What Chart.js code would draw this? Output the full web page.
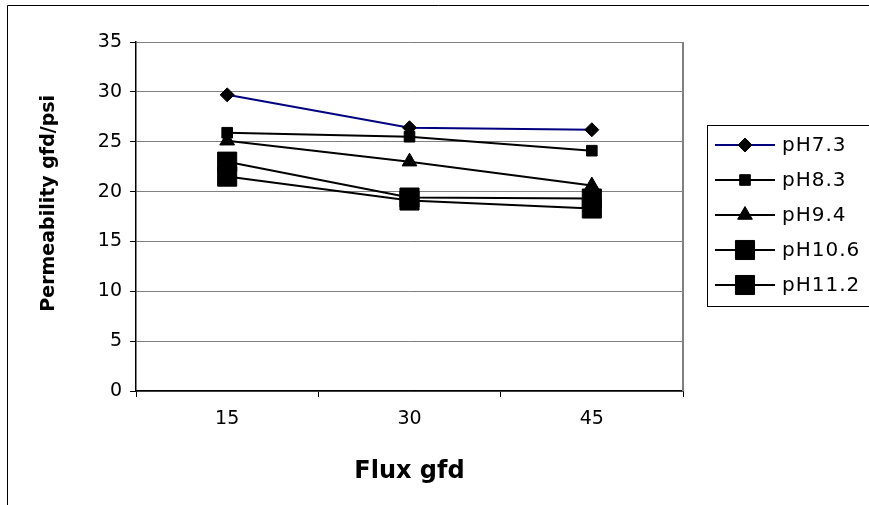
<!DOCTYPE html>
<html>
<head>
<meta charset="utf-8">
<script src="https://cdn.jsdelivr.net/npm/chart.js@4.4.1/dist/chart.umd.min.js"></script>
<style>
  html, body { margin: 0; padding: 0; background: #fff; overflow: hidden; }
  #wrap { width: 869px; height: 505px; }
</style>
</head>
<body>
<div id="wrap"><canvas id="chart" width="869" height="505"></canvas></div>
<script>
// values
const fluxLabels = ['15', '30', '45'];
const seriesNames = ['pH7.3', 'pH8.3', 'pH9.4', 'pH10.6', 'pH11.2'];
const ph73 = [29.7, 26.4, 26.2];
const ph83 = [25.9, 25.5, 24.1];
const ph94 = [25.1, 23.0, 20.6];
const ph106 = [23.0, 19.4, 19.3];
const ph112 = [21.5, 19.1, 18.3];
const yMin = 0, yMax = 35, yStep = 5;

const seriesValues = [ph73, ph83, ph94, ph106, ph112];
const lineColors = ['#000080', '#000', '#000', '#000', '#000'];
const markers = ['rectRot', 'rect', 'triangle', 'rect', 'rect'];
const markerSizes = [7, 7.5, 8.5, 13.5, 13.5];

const tickFont = { family: 'DejaVu Sans', size: 19 };

// legend box on the right, with line + marker samples
const sideLegend = {
  id: 'sideLegend',
  afterDraw(chart) {
    const ctx = chart.ctx;
    const h = Chart.helpers;
    ctx.save();
    // outer chart frame
    ctx.strokeStyle = '#000';
    ctx.lineWidth = 1;
    ctx.beginPath();
    ctx.moveTo(7.5, 510); ctx.lineTo(7.5, 5.5); ctx.lineTo(880, 5.5);
    ctx.stroke();
    // right edge of the plot
    const a = chart.chartArea;
    ctx.strokeStyle = '#808080';
    ctx.lineWidth = 2;
    ctx.beginPath();
    ctx.moveTo(a.right, a.top); ctx.lineTo(a.right, a.bottom);
    ctx.stroke();

    ctx.strokeStyle = '#000';
    ctx.lineWidth = 1;
    ctx.strokeRect(707.5, 125.5, 220, 181);
    chart.data.datasets.forEach((ds, i) => {
      const y = 145 + i * 35;
      ctx.strokeStyle = ds.borderColor;
      ctx.lineWidth = 2;
      ctx.beginPath();
      ctx.moveTo(715, y); ctx.lineTo(775, y);
      ctx.stroke();
      ctx.fillStyle = '#000';
      ctx.strokeStyle = '#000';
      ctx.lineWidth = 1;
      h.drawPoint(ctx, { pointStyle: ds.pointStyle, radius: ds.pointRadius, rotation: 0, borderWidth: 1 }, 745, y);
      ctx.fillStyle = '#000';
      ctx.font = '20px "DejaVu Sans"';
      ctx.letterSpacing = '1px';
      ctx.textBaseline = 'middle';
      ctx.textAlign = 'left';
      ctx.fillText(ds.label, 782, y + 1);
    });
    ctx.restore();
  }
};

new Chart(document.getElementById('chart'), {
  type: 'line',
  data: {
    labels: fluxLabels,
    datasets: seriesNames.map((name, i) => ({
      label: name,
      data: seriesValues[i],
      borderColor: lineColors[i],
      borderWidth: 2,
      backgroundColor: '#000',
      pointBackgroundColor: '#000',
      pointBorderColor: '#000',
      pointBorderWidth: 1,
      pointStyle: markers[i],
      pointRadius: markerSizes[i],
      pointHoverRadius: markerSizes[i],
      tension: 0,
      fill: false
    }))
  },
  options: {
    responsive: false,
    animation: false,
    layout: { padding: { left: 0, right: 186, top: 42, bottom: 0 } },
    plugins: { legend: { display: false }, tooltip: { enabled: false } },
    scales: {
      x: {
        offset: true,
        grid: { display: true, drawOnChartArea: false, drawTicks: true, tickLength: 6, color: '#000', offset: true },
        border: { color: '#000', width: 1.5 },
        ticks: { color: '#000', font: tickFont, padding: 11, maxRotation: 0 },
        title: { display: true, text: 'Flux gfd', color: '#000',
                 font: { family: 'DejaVu Sans', size: 24, weight: 'bold' }, padding: { top: 0, bottom: 19 } },
        afterFit(s) { s.height = 114; }
      },
      y: {
        min: yMin, max: yMax,
        grid: { color: '#808080', lineWidth: 1, tickLength: 6, tickColor: '#000' },
        border: { color: '#000', width: 1.5 },
        ticks: { stepSize: yStep, color: '#000', font: tickFont, padding: 8 },
        title: { display: true, text: '    Permeability gfd/psi', color: '#000',
                 font: { family: 'DejaVu Sans', size: 19, weight: 'bold' }, padding: { top: 38, bottom: 0 } },
        afterFit(s) { s.width = 136; }
      }
    }
  },
  plugins: [sideLegend]
});
</script>
</body>
</html>
